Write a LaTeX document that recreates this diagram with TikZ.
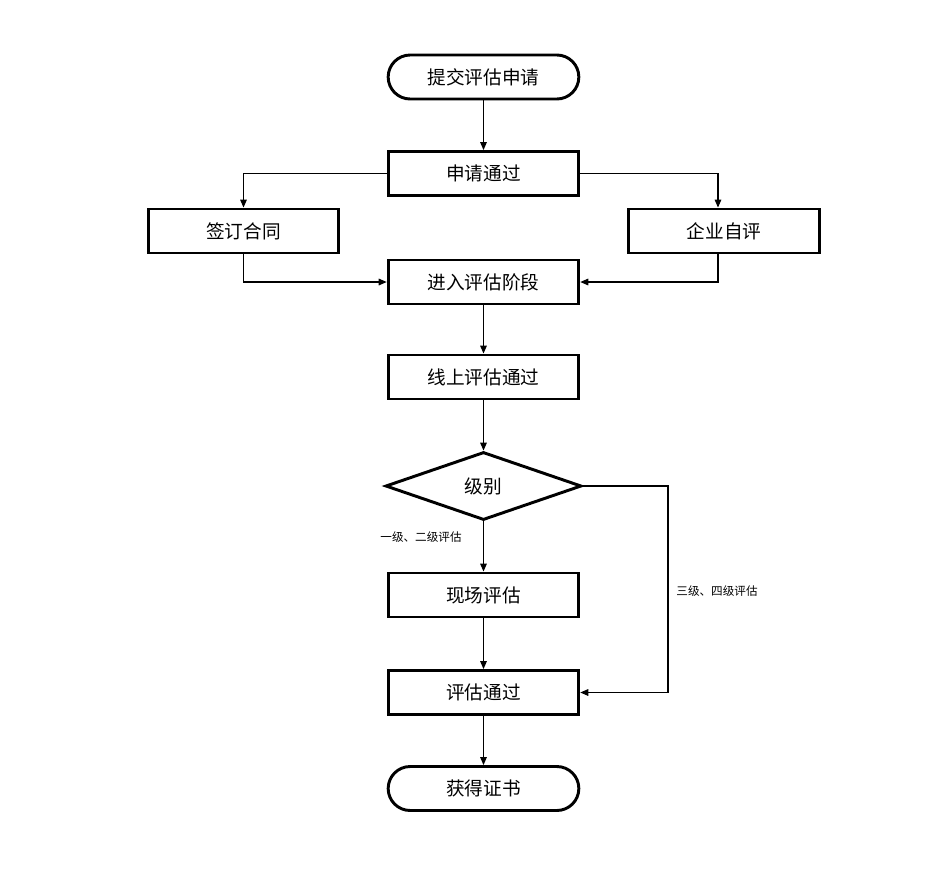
\documentclass[tikz,border=0pt]{standalone}
\usepackage{fontspec}
\newfontfamily\cjk{Noto Sans CJK SC}
\usetikzlibrary{shapes.geometric,arrows.meta}

\begin{document}
\begin{tikzpicture}[x=0.75pt,y=-0.75pt,
	box/.style={draw,line width=2.2pt,minimum width=143pt,minimum height=33pt,inner sep=0pt,font=\cjk\fontsize{14}{16}\selectfont},
	term/.style={box,rounded corners=16.5pt},
	choice/.style={box,diamond,aspect=2.85,minimum width=147pt,minimum height=51pt},
	lab/.style={font=\cjk\fontsize{8.7}{10}\selectfont,inner sep=0pt},
	line/.style={line width=0.8pt,-{Triangle[length=6pt,width=5pt]}}]
	\useasboundingbox (0,0) rectangle (935,883);
	
	\node[term] (submit) at (483.5,77) {提交评估申请};
	\node[box] (accept) at (483.5,173.5) {申请通过};
	\node[box] (sign) at (243.5,231) {签订合同};
	\node[box] (self) at (724,231) {企业自评};
	\node[box] (enter) at (483.5,282) {进入评估阶段};
	\node[box] (online) at (483.5,377) {线上评估通过};
	\node[choice] (level) at (483.5,486) {级别};
	\node[box] (site) at (483.5,595) {现场评估};
	\node[box] (pass) at (483.5,692.5) {评估通过};
	\node[term] (cert) at (483.5,788.5) {获得证书};
	
	\draw[line] (submit) -- (accept);
	\draw[line] (accept.west) -| (sign.north);
	\draw[line] (accept.east) -| ([xshift=-4.5pt]self.north);
	\draw[line] (sign.south) |- (enter.west);
	\draw[line] ([xshift=-4.5pt]self.south) |- (enter.east);
	\draw[line] (enter) -- (online);
	\draw[line] (online) -- (level);
	\draw[line] (level) -- (site);
	\draw[line] (site) -- (pass);
	\draw[line] (pass) -- (cert);
	\coordinate (turn) at (668,486);
	\draw[line] (level.east) -- (turn) |- (pass.east);
	
	\node[lab] (low) at (421,537) {一级、二级评估};
	\node[lab] (high) at (717,591) {三级、四级评估};
\end{tikzpicture}
\end{document}
